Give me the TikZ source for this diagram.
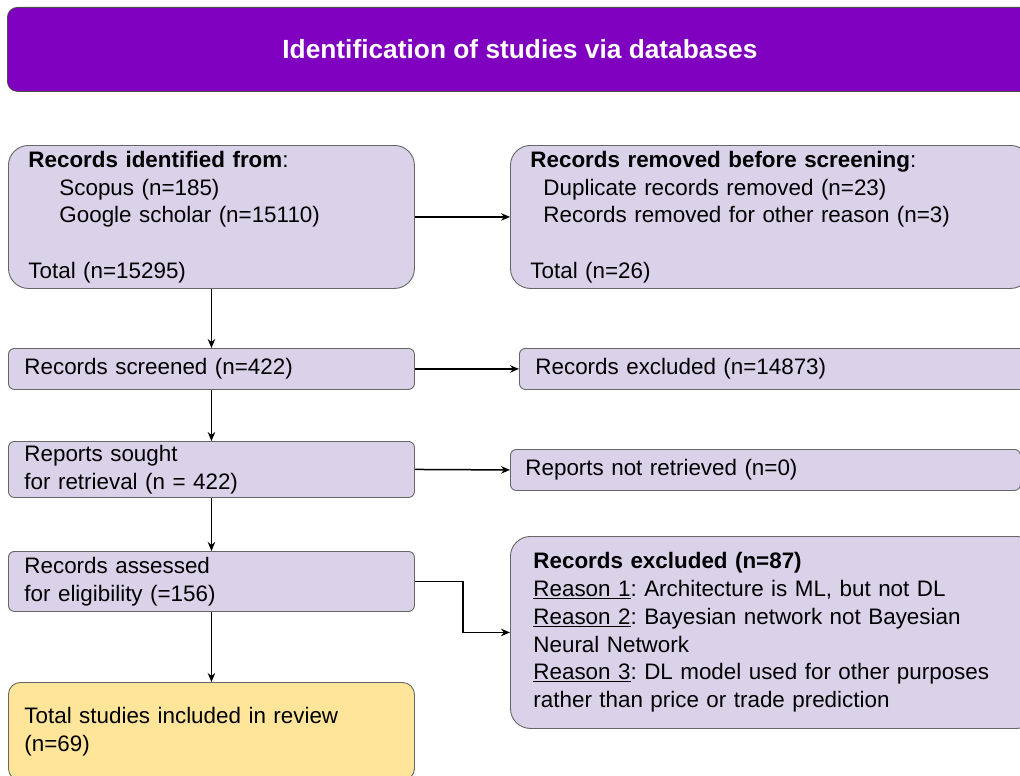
\documentclass[tikz,border=0pt]{standalone}
\usepackage{fontspec}
\setmainfont{Liberation Sans}
\usetikzlibrary{arrows.meta}
\definecolor{hdr}{HTML}{8000BF}
\definecolor{lav}{HTML}{D9D2E9}
\definecolor{ylw}{HTML}{FFE599}
\definecolor{edge}{HTML}{666666}
\frenchspacing
\tikzset{
  box/.style={draw=edge, line width=0.9pt, fill=lav, anchor=north west,
    align=left, inner ysep=0pt, font=\fontsize{22.4}{27.7}\selectfont},
  arr/.style={line width=1.5pt, -{Stealth[length=9pt,width=7.5pt]}},
}
\newcommand{\ind}[1]{\hspace*{#1pt}}
\begin{document}
\begin{tikzpicture}[x=1pt,y=-1pt]
\useasboundingbox (0,0) rectangle (1020,776);
\clip (0,0) rectangle (1020,776);
% title bar
\node[draw=black!70, line width=0.8pt, fill=hdr, rounded corners=10pt, anchor=north west,
  minimum width=1025pt, minimum height=84pt, text=white,
  font=\fontsize{26.3}{30}\selectfont\bfseries] (title) at (7,7)
  {Identification of studies via databases};
% left column
\node[box, rounded corners=20pt, minimum height=143pt, text width=366pt, inner xsep=20pt] (ident) at (8,145)
  {\textbf{Records identified from}:\\
   \ind{31}Scopus (n=185)\\
   \ind{31}Google scholar (n=15110)\\
   \strut\\
   Total (n=15295)};
\node[box, rounded corners=6pt, minimum height=41pt, text width=374pt, inner xsep=16pt] (screen) at (8,348)
  {Records screened (n=422)};
\node[box, rounded corners=6pt, minimum height=56pt, text width=374pt, inner xsep=16pt] (sought) at (8,441)
  {Reports sought\\for retrieval (n = 422)};
\node[box, rounded corners=6pt, minimum height=60pt, text width=374pt, inner xsep=16pt] (assess) at (8,551)
  {Records assessed\\for eligibility (=156)};
\node[box, fill=ylw, rounded corners=12pt, minimum height=98pt, text width=374pt, inner xsep=16pt] (incl) at (8,682)
  {Total studies included in review\\(n=69)};
% right column
\node[box, rounded corners=20pt, minimum height=143pt, text width=480pt, inner xsep=20pt] (removed) at (510,145)
  {\textbf{Records removed before screening}:\\
   \ind{13}Duplicate records removed (n=23)\\
   \ind{13}Records removed for other reason (n=3)\\
   \strut\\
   Total (n=26)};
\node[box, rounded corners=6pt, minimum height=41pt, text width=480pt, inner xsep=16pt] (excl) at (519,348)
  {Records excluded (n=14873)};
\node[box, rounded corners=6pt, minimum height=41pt, text width=480pt, inner xsep=15pt] (notret) at (510,449)
  {Reports not retrieved (n=0)};
\node[box, rounded corners=20pt, minimum height=192pt, text width=480pt, inner xsep=23pt] (reasons) at (510,536)
  {\textbf{Records excluded (n=87)}\\
   \underline{Reason 1}: Architecture is ML, but not DL\\
   \underline{Reason 2}: Bayesian network not Bayesian\\
   Neural Network\\
   \underline{Reason 3}: DL model used for other purposes\\
   rather than price or trade prediction};
% connectors
\draw[arr] (ident.east) -- (removed.west);
\draw[arr] (screen.east) -- (excl.west);
\draw[arr] (sought.east) -- (notret.west);
\draw[arr] (assess.east) -- ++(48,0) |- (reasons.west);
\draw[arr] (ident.south) -- (screen.north);
\draw[arr] (screen.south) -- (sought.north);
\draw[arr] (sought.south) -- (assess.north);
\draw[arr] (assess.south) -- (incl.north);
\end{tikzpicture}
\end{document}
